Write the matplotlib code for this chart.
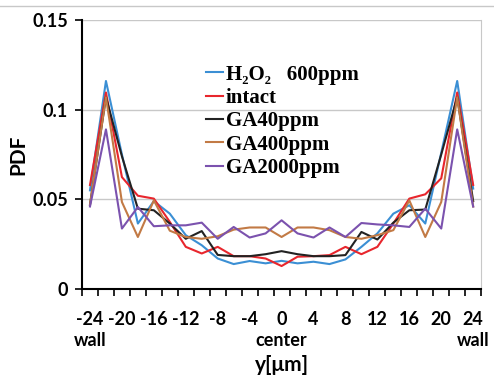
import matplotlib
matplotlib.use("Agg")
import matplotlib.pyplot as plt
from matplotlib.lines import Line2D

# 数据
y_pos = list(range(-24, 25, 2))
h2o2 = [0.055, 0.116, 0.075, 0.0365, 0.049, 0.042, 0.030, 0.0244, 0.017, 0.0139, 0.0156, 0.0143, 0.0157,
        0.0143, 0.0152, 0.0139, 0.0165, 0.0235, 0.031, 0.042, 0.0467, 0.0365, 0.076, 0.116, 0.056]
intact = [0.058, 0.1096, 0.0624, 0.052, 0.0504, 0.0374, 0.0235, 0.0198, 0.0235, 0.0183, 0.0183, 0.017, 0.0128,
          0.018, 0.0183, 0.0189, 0.0235, 0.0194, 0.0235, 0.0365, 0.0504, 0.0528, 0.0617, 0.1096, 0.058]
ga40 = [0.047, 0.107, 0.074, 0.0448, 0.0439, 0.0365, 0.028, 0.0323, 0.019, 0.0183, 0.0183, 0.0194, 0.0211,
        0.0194, 0.0183, 0.0183, 0.0189, 0.0318, 0.0276, 0.037, 0.0439, 0.0443, 0.075, 0.107, 0.049]
ga400 = [0.047, 0.107, 0.0485, 0.029, 0.0494, 0.0325, 0.029, 0.028, 0.0294, 0.0331, 0.0343, 0.0343, 0.029,
         0.0343, 0.0343, 0.0328, 0.029, 0.028, 0.030, 0.0328, 0.0494, 0.029, 0.0485, 0.107, 0.046]
ga2000 = [0.046, 0.089, 0.0337, 0.0457, 0.035, 0.0355, 0.0355, 0.037, 0.028, 0.0346, 0.0287, 0.031, 0.0383,
          0.031, 0.0287, 0.0343, 0.029, 0.0368, 0.036, 0.0355, 0.0346, 0.0448, 0.0337, 0.089, 0.046]

labels = ["H\u2082O\u2082   600ppm", "intact", "GA40ppm", "GA400ppm", "GA2000ppm"]
colors = ["#3b8fd4", "#e8262d", "#222222", "#c27a45", "#7b52ae"]
xtick_vals = list(range(-24, 25, 4))
xtick_text = [str(v) for v in xtick_vals]
# 位置说明
pos_names = {-24: "wall", 0: "center", 24: "wall"}

plt.rcParams['font.family'] = ['Lato', 'DejaVu Sans']

fig = plt.figure(figsize=(4.94, 3.76), dpi=100)
ax = fig.add_axes([0.166, 0.2314, 0.808, 0.7154])

for s, c, lab in zip([h2o2, intact, ga40, ga400, ga2000], colors, labels):
    ax.plot(y_pos, s, color=c, lw=1.5, label=lab)

ax.set_xlim(-25, 25)
ax.set_ylim(0, 0.15)
ax.set_yticks([0, 0.05, 0.1, 0.15])
ax.set_yticklabels(["0", "0.05", "0.1", "0.15"], fontsize=13, fontweight="bold")
ax.set_xticks(xtick_vals)
ax.set_xticklabels(xtick_text, fontsize=13, fontweight="bold")
ax.set_xticks(range(-25, 26, 2), minor=True)
ax.tick_params(axis="x", which="major", length=0, pad=16)
ax.tick_params(axis="x", which="minor", length=5, width=1.2, direction="out")
ax.tick_params(axis="y", length=5, width=1.2, direction="out", pad=5)

for xv, name in pos_names.items():
    ax.text(xv, -0.19, name, transform=ax.get_xaxis_transform(), ha="center", va="center",
            fontsize=13, fontweight="bold")

ax.yaxis.grid(True, color="#c8c8c8", lw=1)
ax.set_axisbelow(True)
ax.spines["top"].set_visible(False)
ax.spines["right"].set_color("#c8c8c8")
ax.spines["left"].set_linewidth(1.5)
ax.spines["bottom"].set_linewidth(1.5)

ax.set_ylabel("PDF", fontsize=15, fontweight="bold", labelpad=3)
ax.set_xlabel("y[\u03bcm]", fontsize=15, fontweight="bold")
ax.xaxis.set_label_coords(0.5, -0.245)

leg = ax.legend(loc="upper left", bbox_to_anchor=(0.29, 0.865), frameon=False,
                prop={"family": ["Liberation Serif", "DejaVu Serif"], "weight": "bold", "size": 15},
                handlelength=0.8, handletextpad=0.15, labelspacing=0.16, borderaxespad=0)

fig.add_artist(Line2D([0, 1], [1 - 6 / 376, 1 - 6 / 376], color="#c8c8c8", lw=1))

fig.savefig("out.png", dpi=100)
